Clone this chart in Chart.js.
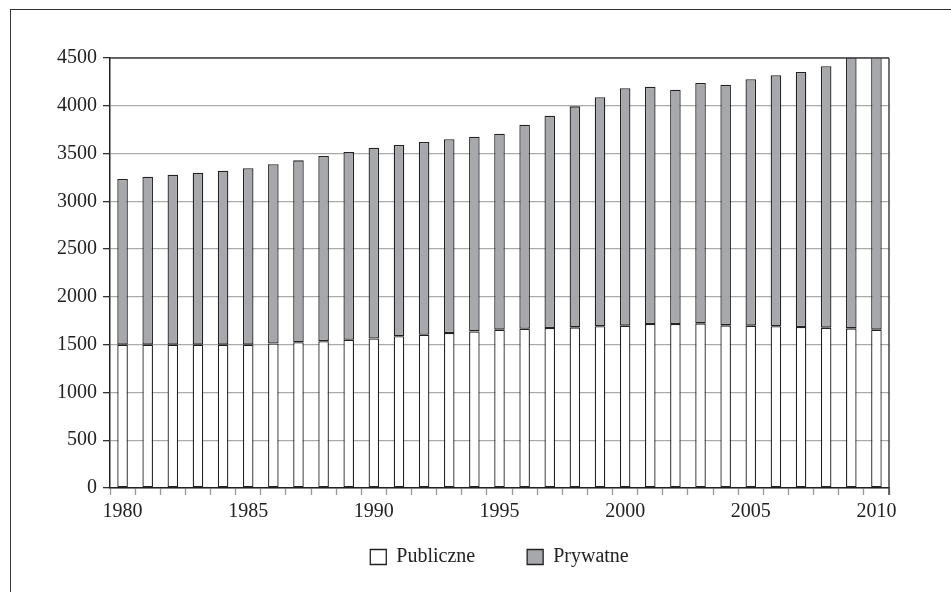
<!DOCTYPE html>
<html lang="pl">

<head>
	<meta charset="UTF-8">
	<title>Publiczne i prywatne</title>
	<script src="https://cdn.jsdelivr.net/npm/chart.js"></script>
	<style>
		body {
			margin: 0;
			background: #fff;
		}

		.ramka {
			position: absolute;
			left: 10px;
			top: 9px;
			width: 1000px;
			height: 700px;
			border-top: 1.5px solid #333;
			border-left: 1.5px solid #333;
		}

		.wykres {
			position: absolute;
			left: 0;
			top: 0;
			width: 951px;
			height: 592px;
		}
	</style>
</head>

<body>
	<div class="ramka"></div>
	<div class="wykres">
		<canvas id="wykres" width="951" height="592"></canvas>
	</div>
	<script>
		const lata = ['1980', '1981', '1982', '1983', '1984', '1985', '1986', '1987', '1988', '1989', '1990',
			'1991', '1992', '1993', '1994', '1995', '1996', '1997', '1998', '1999', '2000',
			'2001', '2002', '2003', '2004', '2005', '2006', '2007', '2008', '2009', '2010'];
		const publiczne = [1500, 1500, 1500, 1500, 1500, 1500, 1512, 1526, 1537, 1551, 1565,
			1588, 1604, 1622, 1639, 1657, 1667, 1674, 1681, 1692, 1699,
			1716, 1716, 1723, 1702, 1699, 1692, 1685, 1678, 1671, 1657];
		const prywatne = [1734, 1758, 1779, 1800, 1821, 1846, 1876, 1903, 1937, 1965, 1996,
			2002, 2017, 2027, 2038, 2051, 2135, 2222, 2313, 2397, 2484,
			2482, 2452, 2515, 2519, 2578, 2627, 2668, 2735, 2834, 2873];
		const etykietyY = [0, 500, 1000, 1500, 2000, 2500, 3000, 3500, 4000, 4500];

		const czcionka = { family: '"Liberation Serif", "DejaVu Serif", serif', size: 20 };

		// gorna i prawa krawedz obszaru wykresu
		const krawedz = {
			id: 'krawedz',
			afterDatasetsDraw(chart) {
				const a = chart.chartArea;
				const ctx = chart.ctx;
				ctx.save();
				ctx.strokeStyle = '#444';
				ctx.lineWidth = 1.5;
				ctx.beginPath();
				ctx.moveTo(a.left, a.top);
				ctx.lineTo(a.right, a.top);
				ctx.moveTo(a.right, a.top);
				ctx.lineTo(a.right, a.bottom + 7);
				ctx.stroke();
				ctx.restore();
			}
		};

		new Chart(document.getElementById('wykres'), {
			type: 'bar',
			data: {
				labels: lata,
				datasets: [{
					label: 'Publiczne',
					data: publiczne,
					backgroundColor: '#ffffff',
					borderColor: '#222',
					borderWidth: 1.3,
					borderSkipped: false,
					barPercentage: 0.42,
					categoryPercentage: 1
				}, {
					label: 'Prywatne',
					data: prywatne,
					backgroundColor: '#a7a8ab',
					borderColor: '#222',
					borderWidth: 1.3,
					borderSkipped: false,
					barPercentage: 0.42,
					categoryPercentage: 1
				}]
			},
			options: {
				responsive: false,
				animation: false,
				layout: {
					padding: { left: 10, right: 62, top: 58, bottom: 15 }
				},
				plugins: {
					tooltip: { enabled: false },
					legend: {
						position: 'bottom',
						fullSize: false,
						labels: {
							font: czcionka,
							color: '#222',
							boxWidth: 16,
							boxHeight: 15,
							padding: 22,
							generateLabels: function (chart) {
								const items = Chart.defaults.plugins.legend.labels.generateLabels(chart);
								// wiekszy odstep miedzy pozycjami legendy
								items[0].text = items[0].text + '\u00a0\u00a0\u00a0\u00a0\u00a0\u00a0';
								return items;
							}
						}
					}
				},
				scales: {
					x: {
						stacked: true,
						afterFit: s => { s.height = 37; },
						border: { display: true, color: '#222', width: 1.5 },
						grid: {
							offset: true,
							drawOnChartArea: false,
							drawTicks: true,
							tickLength: 7,
							tickColor: '#999',
							tickWidth: 1.3
						},
						ticks: {
							autoSkip: false,
							maxRotation: 0,
							font: czcionka,
							color: '#222',
							padding: 5,
							callback: function (v, i) {
								const rok = lata[i];
								return Number(rok) % 5 === 0 ? rok : '';
							}
						}
					},
					y: {
						stacked: true,
						min: 0,
						max: 4500,
						afterFit: s => { s.width = 100; },
						afterBuildTicks: s => { s.ticks = etykietyY.map(v => ({ value: v })); },
						border: { display: true, color: '#222', width: 1.5 },
						grid: {
							color: '#aaa',
							lineWidth: 1.3,
							tickLength: 7,
							tickColor: '#333'
						},
						ticks: {
							font: czcionka,
							color: '#222',
							padding: 6,
							callback: v => String(v)
						}
					}
				}
			},
			plugins: [krawedz]
		});
	</script>
</body>

</html>
